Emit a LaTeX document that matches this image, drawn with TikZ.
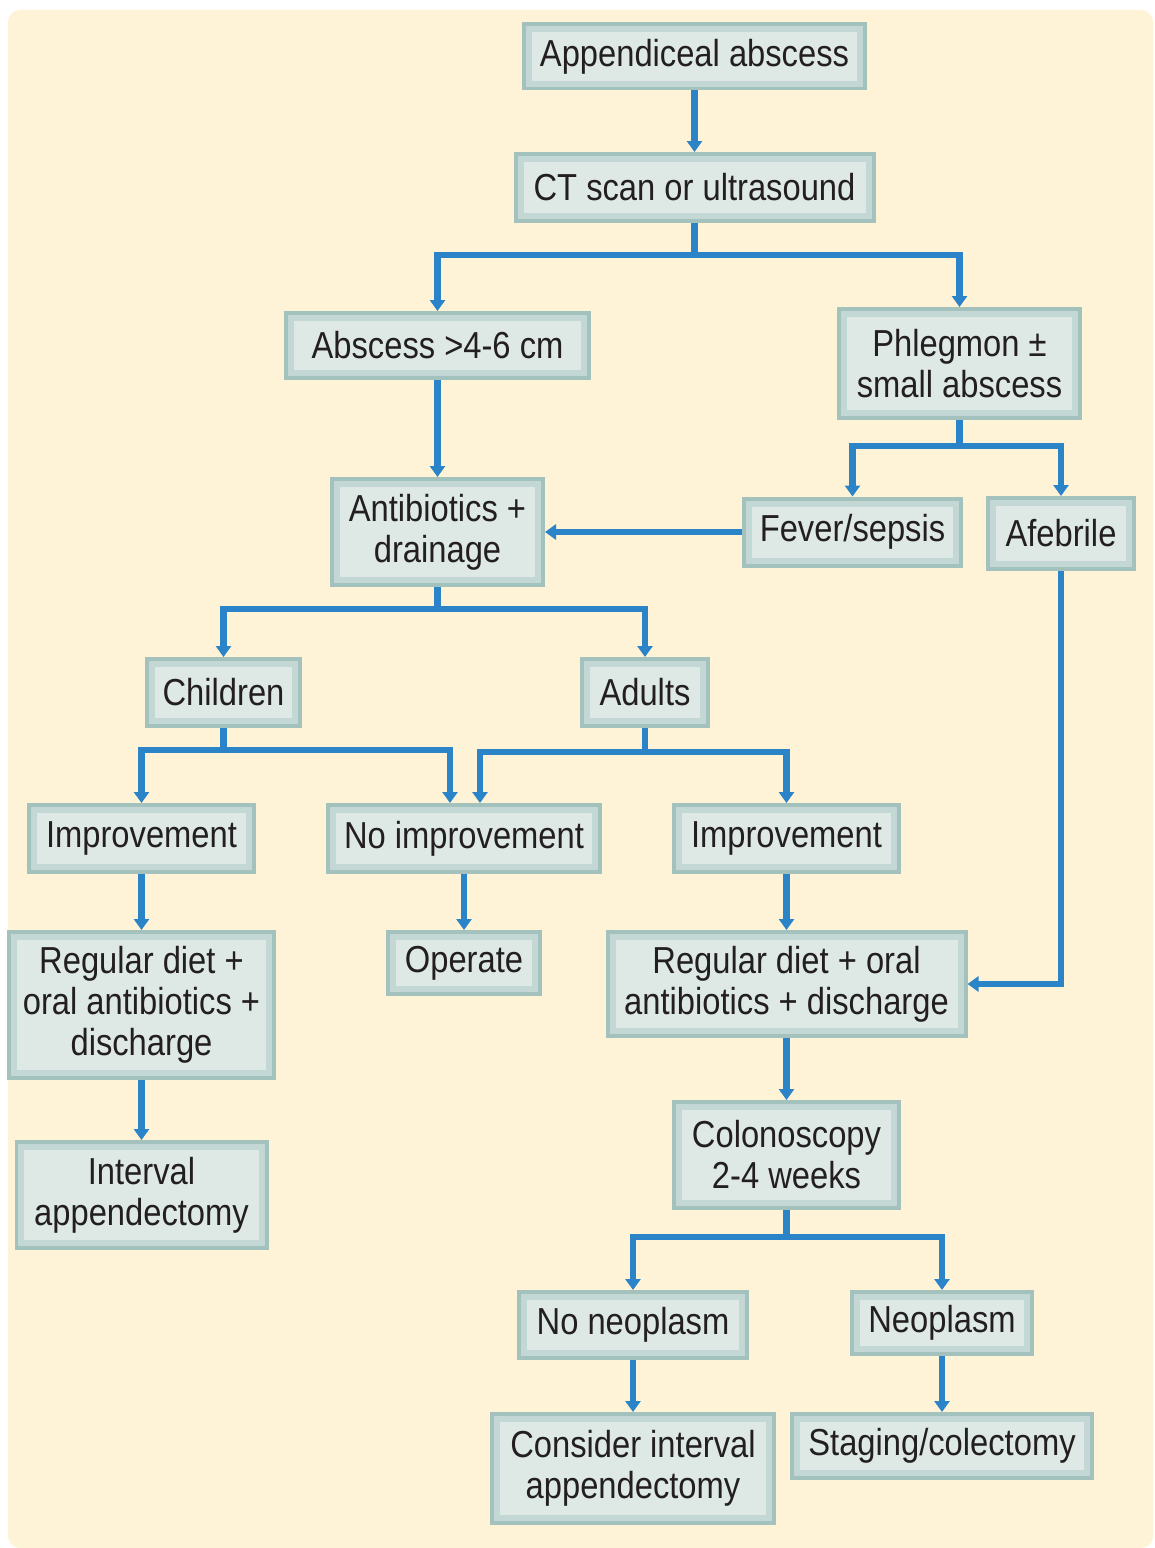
\documentclass[tikz,border=0pt]{standalone}
\usepackage{fontspec}
\setmainfont{Liberation Sans}[FakeStretch=0.87]
\usepackage{tikz}
\usetikzlibrary{positioning, arrows.meta, calc}
\definecolor{bgcream}{HTML}{FEF3D6}
\definecolor{boxedge}{HTML}{A3C2BE}
\definecolor{boxrim}{HTML}{C3D8D4}
\definecolor{boxfill}{HTML}{DEE9E6}
\definecolor{flowblue}{HTML}{2B84C8}
\definecolor{inkdark}{HTML}{231F20}
\tikzset{
	x=0.02cm, y=-0.02cm, % one unit is one pixel of the chart, y going down
	stepbox/.style={rectangle, fill=boxfill, draw=boxrim, line width=0.12cm,
		preaction={draw=boxedge, line width=0.28cm}, % darker outer band
		outer sep=0.14cm, inner sep=0pt, align=center, text=inkdark,
		font=\fontsize{21.4pt}{23.3pt}\selectfont},
	boxsize/.style 2 args={minimum width=#1*0.02cm-0.28cm, minimum height=#2*0.02cm-0.28cm}, % outer size in pixels
	flow/.style={-{Triangle[width=0.3cm,length=0.22cm]}, draw=flowblue, line width=0.13cm}, % blue connectors
}
\begin{document}
\begin{tikzpicture}
	\useasboundingbox (0,0) rectangle (1155,1548);
	\fill[white] (0,0) rectangle (1155,1548);
	\fill[bgcream, rounded corners=0.24cm] (8,10) rectangle (1153,1548);
	% boxes, top to bottom
	\node[stepbox, boxsize={345}{68}] (appx) at (694.5,56.5) {Appendiceal abscess};
	\node[stepbox, boxsize={362}{71}] (ct) at (694.5,187.5) {CT scan or ultrasound};
	\node[stepbox, boxsize={307}{69}] (absc) at (437.5,345.5) {Abscess >4-6 cm};
	\node[stepbox, boxsize={245}{113}] (phleg) at (959.5,363.5) {Phlegmon ±\\small abscess};
	\node[stepbox, boxsize={215}{110}] (anti) at (437.5,532) {Antibiotics +\\drainage};
	\node[stepbox, boxsize={221}{71}] (fever) at (852.5,532) {Fever/sepsis};
	\node[stepbox, boxsize={150}{75}] (afeb) at (1061,533.5) {Afebrile};
	\node[stepbox, boxsize={157}{71}] (child) at (223.5,692.5) {Children};
	\node[stepbox, boxsize={130}{71}] (adult) at (645,692.5) {Adults};
	\node[stepbox, boxsize={229}{71}] (impl) at (141.5,838.5) {Improvement};
	\node[stepbox, boxsize={276}{71}] (noimp) at (464,838.5) {No improvement};
	\node[stepbox, boxsize={229}{71}] (impr) at (786.5,838.5) {Improvement};
	\node[stepbox, boxsize={269}{150}] (regl) at (141.5,1005) {Regular diet +\\oral antibiotics +\\discharge};
	\node[stepbox, boxsize={156}{66}] (oper) at (464,963) {Operate};
	\node[stepbox, boxsize={362}{108}] (regr) at (786.5,984) {Regular diet + oral\\antibiotics + discharge};
	\node[stepbox, boxsize={254}{110}] (intv) at (141.5,1195) {Interval\\appendectomy};
	\node[stepbox, boxsize={229}{110}] (colo) at (786.5,1155) {Colonoscopy\\2-4 weeks};
	\node[stepbox, boxsize={232}{70}] (noneo) at (633,1325) {No neoplasm};
	\node[stepbox, boxsize={184}{66}] (neo) at (942,1323) {Neoplasm};
	\node[stepbox, boxsize={286}{113}] (cons) at (633,1468.5) {Consider interval\\appendectomy};
	\node[stepbox, boxsize={304}{68}] (stag) at (942,1446) {Staging/colectomy};
	% junctions where a line splits
	\coordinate (ctj) at ($(ct.south)+(0,32)$);
	\coordinate (phj) at ($(phleg.south)+(0,26)$);
	\coordinate (antj) at ($(anti.south)+(0,22)$);
	\coordinate (chj) at ($(child.south)+(0,22)$);
	\coordinate (adj) at ($(adult.south)+(0,24)$);
	\coordinate (coj) at ($(colo.south)+(0,27)$);
	% connectors
	\draw[flow] (appx) -- (ct);
	\draw[flow] (ct.south) -- (ctj) -| (absc.north);
	\draw[flow] (ct.south) -- (ctj) -| (phleg.north);
	\draw[flow] (absc) -- (anti);
	\draw[flow] (phleg.south) -- (phj) -| (fever.north);
	\draw[flow] (phleg.south) -- (phj) -| (afeb.north);
	\draw[flow] (fever) -- (anti);
	\draw[flow] (afeb.south) |- (regr.east);
	\draw[flow] (anti.south) -- (antj) -| (child.north);
	\draw[flow] (anti.south) -- (antj) -| (adult.north);
	\draw[flow] (child.south) -- (chj) -| (impl.north);
	\draw[flow] (child.south) -- (chj) -| ($(noimp.north)+(-14,0)$);
	\draw[flow] (adult.south) -- (adj) -| ($(noimp.north)+(16,0)$);
	\draw[flow] (adult.south) -- (adj) -| (impr.north);
	\draw[flow] (impl) -- (regl);
	\draw[flow] (noimp) -- (oper);
	\draw[flow] (impr) -- (regr);
	\draw[flow] (regl) -- (intv);
	\draw[flow] (regr) -- (colo);
	\draw[flow] (colo.south) -- (coj) -| (noneo.north);
	\draw[flow] (colo.south) -- (coj) -| (neo.north);
	\draw[flow] (noneo) -- (cons);
	\draw[flow] (neo) -- (stag);
\end{tikzpicture}
\end{document}
